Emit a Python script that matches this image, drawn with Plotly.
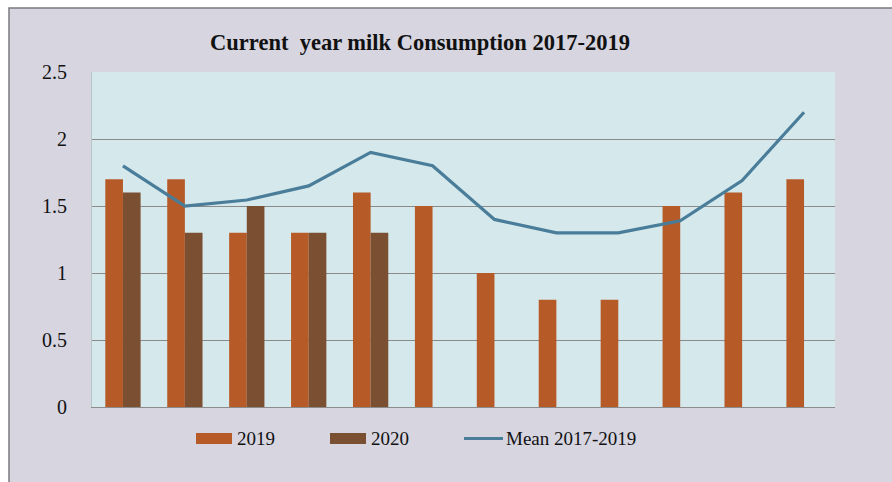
import plotly.graph_objects as go

categories = [str(i) for i in range(1, 13)]
y2019 = [1.7, 1.7, 1.3, 1.3, 1.6, 1.5, 1.0, 0.8, 0.8, 1.5, 1.6, 1.7]
y2020 = [1.6, 1.3, 1.5, 1.3, 1.3, None, None, None, None, None, None, None]
mean_1719 = [1.8, 1.5, 1.545, 1.65, 1.9, 1.8, 1.4, 1.3, 1.3, 1.39, 1.69, 2.2]
y_ticks = [0, 0.5, 1, 1.5, 2, 2.5]
y_labels = ["0", "0.5", "1", "1.5", "2", "2.5"]
series_names = ["2019", "2020", "Mean 2017-2019"]
series_colors = ["#b65a27", "#7b4f32", "#4a7d99"]

font_family = "Liberation Serif, Times New Roman, serif"

W, H = 892, 482
L, R, T, B = 92, 57, 72, 75
PW, PH = W - L - R, H - T - B


def px(x):
    return (x - L) / PW


def py(y):
    return (H - B - y) / PH


fig = go.Figure()
fig.add_trace(go.Bar(x=categories, y=y2019, name=series_names[0],
                     marker=dict(color=series_colors[0], line=dict(width=0))))
fig.add_trace(go.Bar(x=categories, y=y2020, name=series_names[1],
                     marker=dict(color=series_colors[1], line=dict(width=0))))
fig.add_trace(go.Scatter(x=categories, y=mean_1719, name=series_names[2],
                         mode="lines", line=dict(color=series_colors[2], width=3.2)))

shapes = [
    # outer panel
    dict(type="rect", xref="paper", yref="paper",
         x0=px(9), x1=px(W + 5), y0=py(H + 5), y1=py(8),
         fillcolor="#d6d5e0", line=dict(color="#7a7a80", width=1.5), layer="below"),
    # plot area background
    dict(type="rect", xref="paper", yref="paper",
         x0=0, x1=1, y0=0, y1=1,
         fillcolor="#d5e8ec", line=dict(width=0), layer="below"),
    # legend symbols
    dict(type="rect", xref="paper", yref="paper",
         x0=px(196), x1=px(232), y0=py(444), y1=py(433),
         fillcolor=series_colors[0], line=dict(width=0)),
    dict(type="rect", xref="paper", yref="paper",
         x0=px(330), x1=px(366), y0=py(444), y1=py(433),
         fillcolor=series_colors[1], line=dict(width=0)),
    dict(type="line", xref="paper", yref="paper",
         x0=px(464), x1=px(503), y0=py(438.5), y1=py(438.5),
         line=dict(color=series_colors[2], width=3)),
]

annotations = [
    dict(text=series_names[0], x=px(235), y=py(438.5), xref="paper", yref="paper",
         xanchor="left", yanchor="middle", showarrow=False,
         font=dict(family=font_family, size=19, color="#111111")),
    dict(text=series_names[1], x=px(369), y=py(438.5), xref="paper", yref="paper",
         xanchor="left", yanchor="middle", showarrow=False,
         font=dict(family=font_family, size=19, color="#111111")),
    dict(text=series_names[2], x=px(504), y=py(438.5), xref="paper", yref="paper",
         xanchor="left", yanchor="middle", showarrow=False,
         font=dict(family=font_family, size=19, color="#111111")),
]

fig.update_layout(
    width=W, height=H,
    margin=dict(l=L, r=R, t=T, b=B),
    paper_bgcolor="white",
    plot_bgcolor="#d5e8ec",
    barmode="group",
    bargap=0.43,
    bargroupgap=0,
    title=dict(text="<b>Current  year milk Consumption 2017-2019</b>",
               x=420 / W, xanchor="center", xref="container",
               y=1 - 42 / H, yanchor="middle",
               font=dict(family=font_family, size=22.5, color="#111111")),
    font=dict(family=font_family, color="#111111"),
    showlegend=False,
    xaxis=dict(showticklabels=False, showgrid=False, ticks="",
               showline=True, linecolor="#8c8c8c", linewidth=1.2),
    yaxis=dict(range=[0, 2.5], tickvals=y_ticks, ticktext=y_labels,
               showgrid=True, gridcolor="#8a8a8a", gridwidth=1,
               zeroline=False, showline=True, linecolor="#b8c4c8", linewidth=1,
               ticks="", ticklabelstandoff=20,
               tickfont=dict(family=font_family, size=20, color="#111111")),
    shapes=shapes,
    annotations=annotations,
)

fig.write_html("out.html", config={"displayModeBar": False, "staticPlot": True},
               post_script="document.body.style.margin='0';")
